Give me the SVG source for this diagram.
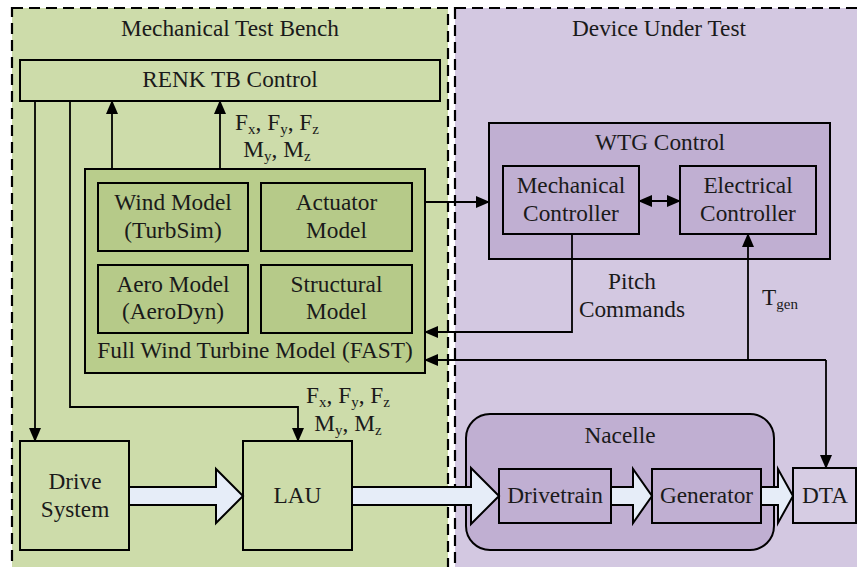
<svg xmlns="http://www.w3.org/2000/svg" width="857" height="567" viewBox="0 0 857 567" font-family="'Liberation Serif', 'Times New Roman', Times, 'DejaVu Serif', serif">
<defs>
<marker id="ah" markerUnits="userSpaceOnUse" markerWidth="14" markerHeight="12" refX="13" refY="6" orient="auto-start-reverse" viewBox="0 0 14 12">
<path d="M0,0 L14,6 L0,12 Z" fill="#000"/>
</marker>
<style>
text{font-family:'Liberation Serif','Times New Roman',Times,'DejaVu Serif',serif;font-size:23.3px;fill:#1a1a1a;text-anchor:middle}
.sub{font-size:15px}
.panel{stroke:#000;stroke-width:2.2;stroke-dasharray:11,6}
.box{stroke:#000;stroke-width:2}
.line{fill:none;stroke:#000;stroke-width:1.8}
.blk{fill:#E6EDF8;stroke:#000;stroke-width:2}
</style>
</defs>
<rect width="857" height="567" fill="#fff"/>
<g id="mtb">
<rect class="panel" x="12" y="8" width="436" height="580" fill="#CDDCAA"/>
<text x="230" y="36">Mechanical Test Bench</text>
</g>
<g id="dut">
<rect class="panel" x="455" y="8" width="420" height="580" fill="#D3C8E1"/>
<text x="659" y="36">Device Under Test</text>
</g>
<g id="renk">
<rect class="box" x="20" y="60" width="420" height="41" fill="#CDDCAA"/>
<text x="230" y="87">RENK TB Control</text>
</g>
<g id="fast">
<rect class="box" x="85" y="169" width="340" height="204" fill="#B9CD8C"/>
<text x="255" y="358">Full Wind Turbine Model (FAST)</text>
</g>
<g id="wind">
<rect class="box" x="98" y="183" width="150" height="68" fill="#B6CA89"/>
<text x="173" y="210">Wind Model</text>
<text x="173" y="238">(TurbSim)</text>
</g>
<g id="actuator">
<rect class="box" x="261" y="183" width="151" height="68" fill="#B6CA89"/>
<text x="336.5" y="210">Actuator</text>
<text x="336.5" y="238">Model</text>
</g>
<g id="aero">
<rect class="box" x="98" y="265" width="150" height="68" fill="#B6CA89"/>
<text x="173" y="292">Aero Model</text>
<text x="173" y="319">(AeroDyn)</text>
</g>
<g id="structural">
<rect class="box" x="261" y="265" width="151" height="68" fill="#B6CA89"/>
<text x="336.5" y="292">Structural</text>
<text x="336.5" y="319">Model</text>
</g>
<g id="wtg">
<rect class="box" x="489" y="123" width="341" height="136" fill="#C0AFD2"/>
<text x="660" y="150">WTG Control</text>
</g>
<g id="mechctrl">
<rect class="box" x="503" y="166" width="136" height="68" fill="#C0AFD2"/>
<text x="571" y="193">Mechanical</text>
<text x="571" y="221">Controller</text>
</g>
<g id="elecctrl">
<rect class="box" x="680" y="166" width="136" height="68" fill="#C0AFD2"/>
<text x="748" y="193">Electrical</text>
<text x="748" y="221">Controller</text>
</g>
<g id="drive">
<rect class="box" x="20" y="441" width="109" height="109" fill="#CDDCAA"/>
<text x="75" y="489">Drive</text>
<text x="75" y="517">System</text>
</g>
<g id="lau">
<rect class="box" x="243" y="441" width="109" height="109" fill="#CDDCAA"/>
<text x="297.5" y="503">LAU</text>
</g>
<g id="nacelle">
<rect class="box" x="466" y="414" width="308" height="136" rx="24" fill="#C0AFD2"/>
<text x="620" y="443">Nacelle</text>
</g>
<g id="drivetrain">
<rect class="box" x="499" y="469" width="112" height="54" fill="#C0AFD2"/>
<text x="555" y="503">Drivetrain</text>
</g>
<g id="generator">
<rect class="box" x="652" y="469" width="109" height="54" fill="#C0AFD2"/>
<text x="706.5" y="503">Generator</text>
</g>
<g id="dta">
<rect class="box" x="793" y="468" width="63" height="55" fill="#D6CCE3"/>
<text x="825" y="503">DTA</text>
</g>
<g id="connectors">
<path class="line" d="M35,101 V441" marker-end="url(#ah)"/>
<path class="line" d="M70,101 V407 H298 V441" marker-end="url(#ah)"/>
<path class="line" d="M112,169 V101" marker-end="url(#ah)"/>
<path class="line" d="M220,169 V101" marker-end="url(#ah)"/>
<path class="line" d="M425,202 H489" marker-end="url(#ah)"/>
<path class="line" d="M639,201 H680" marker-start="url(#ah)" marker-end="url(#ah)"/>
<path class="line" d="M572,234 V332 H425" marker-end="url(#ah)"/>
<path class="line" d="M748,360 V234" marker-end="url(#ah)"/>
<path class="line" d="M826,360 H425" marker-end="url(#ah)"/>
<path class="line" d="M826,360 V468" marker-end="url(#ah)"/>
<path class="blk" d="M129,487 H216 V469 L243,496 L216,523 V505 H129 Z"/>
<path class="blk" d="M352,487 H471 V468 L499,496 L471,524 V505 H352 Z"/>
<path class="blk" d="M611,487 H633 V469 L652,496 L633,523 V505 H611 Z"/>
<path class="blk" d="M761,487 H778 V469 L793,496 L778,523 V505 H761 Z"/>
<text x="277" y="130">F<tspan class="sub" dy="4">x</tspan><tspan dy="-4">, F</tspan><tspan class="sub" dy="4">y</tspan><tspan dy="-4">, F</tspan><tspan class="sub" dy="4">z</tspan></text>
<text x="277" y="157">M<tspan class="sub" dy="4">y</tspan><tspan dy="-4">, M</tspan><tspan class="sub" dy="4">z</tspan></text>
<text x="348" y="403">F<tspan class="sub" dy="4">x</tspan><tspan dy="-4">, F</tspan><tspan class="sub" dy="4">y</tspan><tspan dy="-4">, F</tspan><tspan class="sub" dy="4">z</tspan></text>
<text x="348" y="431">M<tspan class="sub" dy="4">y</tspan><tspan dy="-4">, M</tspan><tspan class="sub" dy="4">z</tspan></text>
<text x="632" y="289">Pitch</text>
<text x="632" y="317">Commands</text>
<text x="762" y="305" style="text-anchor:start">T<tspan class="sub" dy="4">gen</tspan></text>
</g>
</svg>
